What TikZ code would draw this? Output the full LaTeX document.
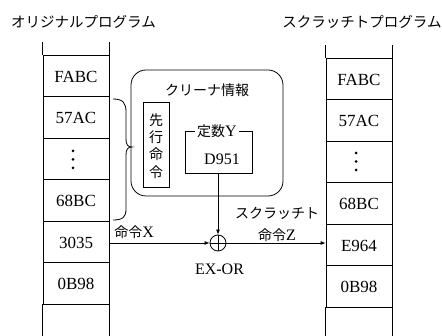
\documentclass[tikz,border=0pt]{standalone}
\usepackage{fontspec}
\setmainfont{Liberation Serif}
\newfontfamily\jp{Noto Sans CJK JP}
\usetikzlibrary{arrows.meta}
\begin{document}
\begin{tikzpicture}[x=1pt,y=-1pt,
  line width=0.8pt,
  cell/.style={draw, minimum width=66pt, minimum height=41.5pt, inner sep=0pt,
    text height=13.5pt, text depth=0pt, font=\fontsize{17}{17}\selectfont},
  jptext/.style={font=\jp\fontsize{14}{14}\selectfont, inner sep=0pt},
  ttl/.style={font=\jp\fontsize{14.5}{14.5}\selectfont, inner sep=0pt},
  sertext/.style={font=\fontsize{16}{16}\selectfont, inner sep=0pt},
  arr/.style={-{Latex[length=5pt,width=4pt]}},
  vdot/.style={fill, circle, inner sep=0pt, minimum size=3pt}
]
\useasboundingbox (0,0) rectangle (442,336);

% titles
\node[ttl] (tl) at (83.5,22) {オリジナルプログラム};
\node[ttl] (tr) at (362,22) {スクラッチトプログラム};

% left column
\node[cell] (L1) at (76,75.75) {FABC};
\node[cell] (L2) at (76,117.25) {57AC};
\node[cell] (L3) at (76,158.75) {};
\node[cell] (L4) at (76,200.25) {68BC};
\node[cell] (L5) at (76,241.75) {3035};
\node[cell] (L6) at (76,283.25) {0B98};
\draw (L1.north west) -- ++(0,-13) (L1.north east) -- ++(0,-13);
\draw (L6.south west) -- ++(0,32) (L6.south east) -- ++(0,32);
\node[vdot] (ld1) at (73,151) {};
\node[vdot] (ld2) at (73,159.5) {};
\node[vdot] (ld3) at (73,168) {};

% right column
\node[cell] (R1) at (359,78.75) {FABC};
\node[cell] (R2) at (359,120.25) {57AC};
\node[cell] (R3) at (359,161.75) {};
\node[cell] (R4) at (359,203.25) {68BC};
\node[cell] (R5) at (359,244.75) {E964};
\node[cell] (R6) at (359,286.25) {0B98};
\draw (R1.north west) -- ++(0,-13) (R1.north east) -- ++(0,-13);
\draw (R6.south west) -- ++(0,29) (R6.south east) -- ++(0,29);
\node[vdot] (rd1) at (356,153) {};
\node[vdot] (rd2) at (356,161.5) {};
\node[vdot] (rd3) at (356,170) {};

% brace
\draw (113,99) .. controls (123,99) and (126,103) .. (126,112) -- (126,139)
  .. controls (126,145) and (128,147) .. (132,147)
  .. controls (128,147) and (126,149) .. (126,155) -- (126,209)
  .. controls (126,217) and (123,220) .. (113,220);

% cleaner info
\node[draw, rounded corners=15pt, minimum width=152pt, minimum height=126pt] (cl) at (207,133) {};
\node[jptext] (clt) at (207,90) {クリーナ情報};
\node[draw, minimum width=26pt, minimum height=85pt, inner sep=0pt] (sk) at (156,144.5) {};
\node[jptext, align=center, font=\jp\fontsize{14}{17.3}\selectfont] (skt) at (156,146) {先\\行\\命\\令};
\node[draw, minimum width=67pt, minimum height=42pt, inner sep=0pt] (cy) at (218.5,152) {};
\node[jptext, fill=white, inner xsep=2.5pt, inner ysep=1pt] (cyt) at (217,131) {定数{\rmfamily\fontsize{16}{16}\selectfont Y}};
\node[sertext] (d951) at (222,159) {D951};

% xor
\node[draw, circle, minimum size=16pt, inner sep=0pt] (xor) at (218,243) {};
\draw (xor.north) -- (xor.south) (xor.west) -- (xor.east);
\node[sertext] (exor) at (219.5,269) {EX-OR};

% connectors
\draw[arr] (cy.south -| xor) -- (xor.north);
\draw[arr] (L5.east |- xor) -- (xor.west);
\draw[arr] (xor.east) -- (xor.east -| R5.west);

\node[jptext, anchor=west] (lx) at (114,232) {命令{\rmfamily\fontsize{16}{16}\selectfont X}};
\node[jptext, align=center, font=\jp\fontsize{14}{22}\selectfont] (lz) at (277,224) {スクラッチト\\命令{\rmfamily\fontsize{16}{16}\selectfont Z}};
\end{tikzpicture}
\end{document}
